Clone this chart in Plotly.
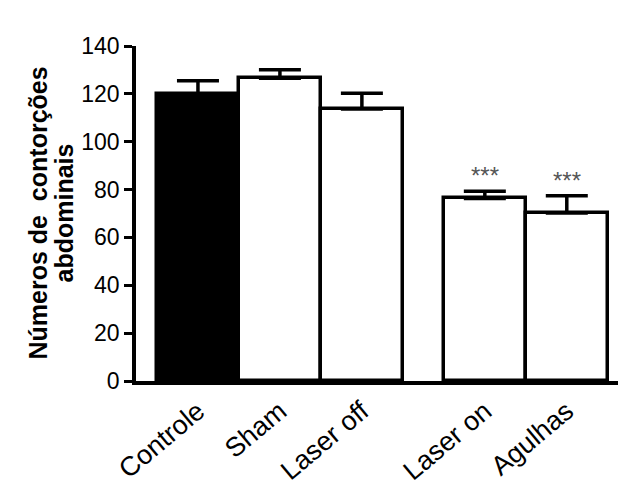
import plotly.graph_objects as go

categories = ["Controle", "Sham", "Laser off", "Laser on", "Agulhas"]
positions = [0, 1, 2, 3.5, 4.5]
values = [120, 126.5, 113.7, 76.3, 70.2]
errors = [5.5, 3.6, 6.6, 3.0, 7.2]
colors = ["black", "white", "white", "white", "white"]
significance = ["", "", "", "***", "***"]
ytitle_lines = ["Números de&nbsp; contorções", "abdominais"]

fig = go.Figure()
fig.add_trace(go.Bar(
    x=positions, y=values, width=1.0,
    marker=dict(color=colors, line=dict(color="black", width=3.5)),
    error_y=dict(type="data", array=errors, arrayminus=[0]*5, symmetric=False,
                 color="black", thickness=3.5, width=21),
    showlegend=False,
))

for p, v, e, s in zip(positions, values, errors, significance):
    if s:
        fig.add_annotation(x=p, y=v + e, text=s, showarrow=False, yanchor="bottom",
                           yshift=0, font=dict(family="Liberation Sans, Arial", size=24, color="#555"))

for line, shift in zip(ytitle_lines, [-99, -73]):
    fig.add_annotation(xref="paper", yref="paper", x=0, y=0.5, xshift=shift,
                       text="<b>" + line + "</b>", textangle=-90,
                       showarrow=False, xanchor="center", yanchor="middle",
                       font=dict(family="Liberation Sans, Arial", size=25, color="black"))

fig.update_layout(
    width=626, height=488,
    margin=dict(l=128, r=0, t=38, b=115),
    plot_bgcolor="white", paper_bgcolor="white",
    font=dict(family="Liberation Sans, Arial", size=20, color="black"),
    xaxis=dict(range=[-0.756, 5.32], tickvals=positions, ticktext=categories,
               tickangle=-40, showline=True, linecolor="black", linewidth=3.5,
               ticks="", showgrid=False, zeroline=False, tickfont=dict(size=27),
               automargin=False),
    yaxis=dict(range=[0, 140], tickvals=[0, 20, 40, 60, 80, 100, 120, 140],
               showline=True, linecolor="black", linewidth=3.5, ticks="outside",
               ticklen=8, tickwidth=3, tickcolor="black", showgrid=False, zeroline=False,
               tickfont=dict(size=23), automargin=False),
    bargap=0,
)

fig.write_html("out.html")
